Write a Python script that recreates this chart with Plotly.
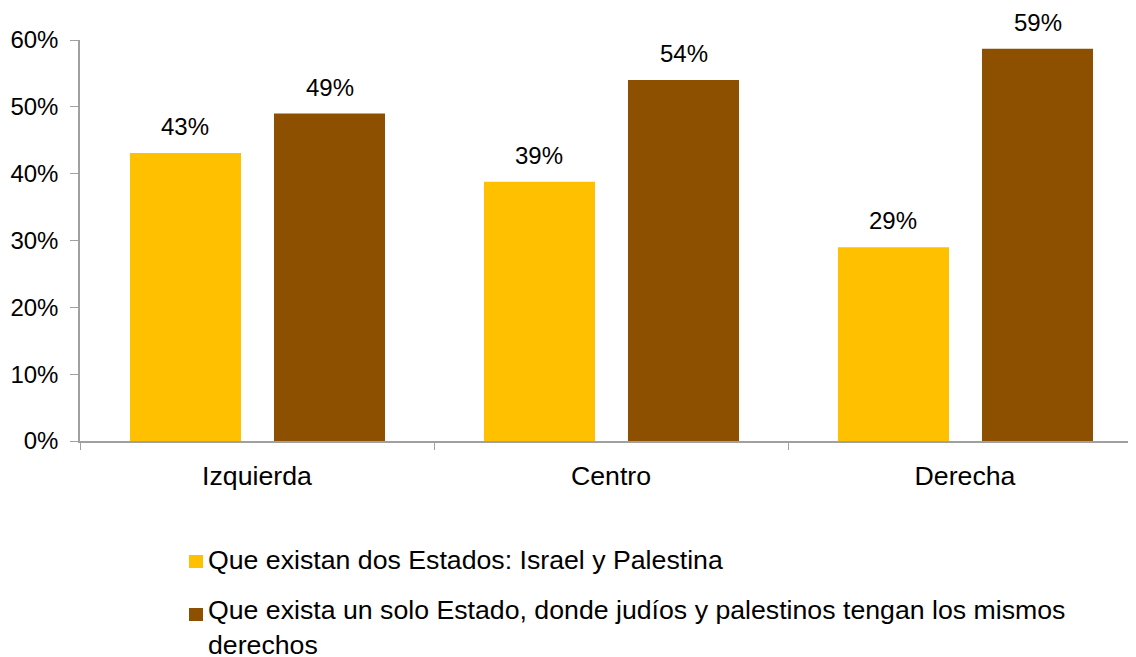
import plotly.graph_objects as go

categories = ["Izquierda", "Centro", "Derecha"]
series_names = [
    "Que existan dos Estados: Israel y Palestina",
    "Que exista un solo Estado, donde judíos y palestinos tengan los mismos<br>derechos",
]
dos_estados = [0.431, 0.388, 0.290]
un_estado = [0.490, 0.540, 0.587]
labels_dos = ["43%", "39%", "29%"]
labels_uno = ["49%", "54%", "59%"]
tick_vals = [0, 0.1, 0.2, 0.3, 0.4, 0.5, 0.6]
tick_text = ["0%", "10%", "20%", "30%", "40%", "50%", "60%"]

colors = ["#FFC000", "#8C5000"]
FONT = "Liberation Sans, Arial, sans-serif"
bar_w = 0.3136
offsets = [-0.3588, 0.048]

fig = go.Figure()
for i, (vals, name) in enumerate([(dos_estados, series_names[0]), (un_estado, series_names[1])]):
    fig.add_trace(go.Bar(
        x=categories, y=vals, name=name,
        marker=dict(color=colors[i], line=dict(width=0)),
        width=bar_w, offset=offsets[i],
        showlegend=False,
    ))

annotations = []
for i, (vals, labs) in enumerate([(dos_estados, labels_dos), (un_estado, labels_uno)]):
    for j, (v, t) in enumerate(zip(vals, labs)):
        annotations.append(dict(
            x=j + offsets[i] + bar_w / 2, y=v, xref="x", yref="y",
            text=t, showarrow=False, yanchor="bottom", yshift=11,
            font=dict(family=FONT, size=24, color="#000000"),
        ))

# manual legend (square swatch + label); plot area spans 1062 px x 401 px
PW, PH = 1062.0, 401.0
legend_text_x = 127 / PW
legend_y = [-119 / PH, -186 / PH]
swatch_x = (109 / PW, 123 / PW)
swatch_y = [(-127 / PH, -114 / PH), (-180 / PH, -167 / PH)]
shapes = []
for i, name in enumerate(series_names):
    annotations.append(dict(
        x=legend_text_x, y=legend_y[i], xref="paper", yref="paper",
        xanchor="left", yanchor="middle", align="left", showarrow=False,
        text=name, font=dict(family=FONT, size=26.7, color="#000000"),
        borderpad=0,
    ))
    shapes.append(dict(
        type="rect", xref="paper", yref="paper",
        x0=swatch_x[0], x1=swatch_x[1], y0=swatch_y[i][0], y1=swatch_y[i][1],
        fillcolor=colors[i], line=dict(width=0),
    ))

fig.update_layout(
    width=1136, height=657,
    margin=dict(l=72, r=2, t=32, b=224, autoexpand=False),
    plot_bgcolor="white", paper_bgcolor="white",
    barmode="overlay",
    showlegend=False,
    annotations=annotations,
    shapes=shapes,
    font=dict(family=FONT, color="#000000"),
)
fig.update_xaxes(
    type="category", range=[-0.5, 2.5],
    showline=True, linecolor="#A0A0A0", linewidth=1.5,
    ticks="outside", tickson="boundaries", ticklen=7, tickcolor="#A0A0A0",
    tickfont=dict(family=FONT, size=26.7, color="#000000"),
    ticklabelstandoff=10,
    showgrid=False, zeroline=False,
)
fig.update_yaxes(
    range=[0, 0.6], tickvals=tick_vals, ticktext=tick_text,
    showline=True, linecolor="#A0A0A0", linewidth=1.5,
    ticks="outside", ticklen=8, tickcolor="#A0A0A0",
    tickfont=dict(family=FONT, size=24, color="#000000"),
    ticklabelstandoff=7,
    showgrid=False, zeroline=False,
)

fig.write_html("out.html")
